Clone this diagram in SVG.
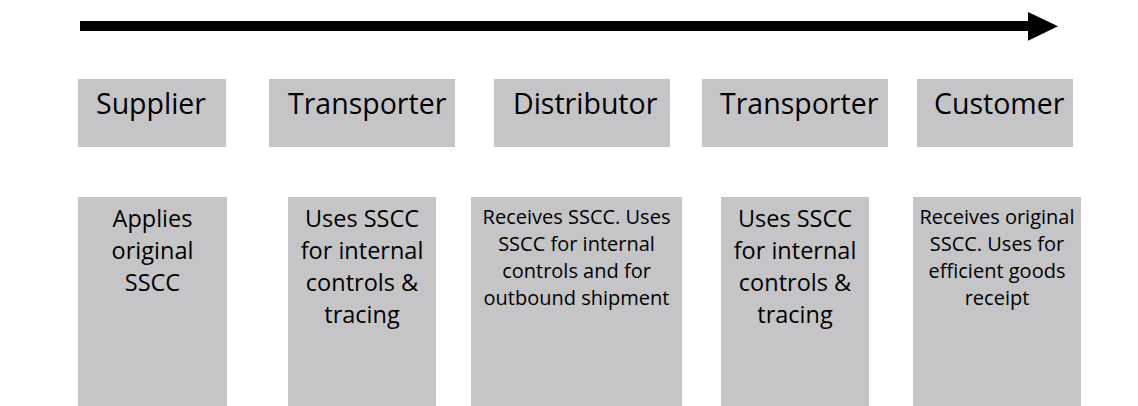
<svg xmlns="http://www.w3.org/2000/svg" width="1138" height="406" viewBox="0 0 1138 406">
<style>
.box{fill:#c5c5c7;}
.t{font-family:"Open Sans","Liberation Sans",sans-serif;fill:#000;}
.hd{font-size:28.5px;}
.lg{font-size:23.5px;text-anchor:middle;}
.sm{font-size:20px;text-anchor:middle;}
</style>
<rect width="1138" height="406" fill="#fff"/>
<g id="connectors">
<path d="M80 21 H1028 V12 L1058 26.3 L1028 40.7 V31 H80 Z" fill="#000"/>
</g>
<g id="supplier">
<rect class="box" x="78" y="79" width="148" height="68"/>
<text class="t hd" x="96" y="114">Supplier</text>
</g>
<g id="transporter1">
<rect class="box" x="269" y="79" width="186" height="68"/>
<text class="t hd" x="288" y="114">Transporter</text>
</g>
<g id="distributor">
<rect class="box" x="494" y="79" width="176" height="68"/>
<text class="t hd" x="513" y="114">Distributor</text>
</g>
<g id="transporter2">
<rect class="box" x="702" y="79" width="186" height="68"/>
<text class="t hd" x="720" y="114">Transporter</text>
</g>
<g id="customer">
<rect class="box" x="917" y="79" width="156" height="68"/>
<text class="t hd" x="934" y="114">Customer</text>
</g>
<g id="supplier-role">
<rect class="box" x="78" y="197" width="149" height="209"/>
<text class="t lg" x="152.5" y="227">Applies</text>
<text class="t lg" x="152.5" y="259">original</text>
<text class="t lg" x="152.5" y="291">SSCC</text>
</g>
<g id="transporter1-role">
<rect class="box" x="288" y="197" width="148" height="209"/>
<text class="t lg" x="362" y="227">Uses SSCC</text>
<text class="t lg" x="362" y="259">for internal</text>
<text class="t lg" x="362" y="291">controls &amp;</text>
<text class="t lg" x="362" y="323">tracing</text>
</g>
<g id="distributor-role">
<rect class="box" x="471" y="197" width="211" height="209"/>
<text class="t sm" x="576.5" y="224">Receives SSCC. Uses</text>
<text class="t sm" x="576.5" y="251">SSCC for internal</text>
<text class="t sm" x="576.5" y="278">controls and for</text>
<text class="t sm" x="576.5" y="305">outbound shipment</text>
</g>
<g id="transporter2-role">
<rect class="box" x="721" y="197" width="148" height="209"/>
<text class="t lg" x="795" y="227">Uses SSCC</text>
<text class="t lg" x="795" y="259">for internal</text>
<text class="t lg" x="795" y="291">controls &amp;</text>
<text class="t lg" x="795" y="323">tracing</text>
</g>
<g id="customer-role">
<rect class="box" x="913" y="197" width="168" height="209"/>
<text class="t sm" x="997" y="224">Receives original</text>
<text class="t sm" x="997" y="251">SSCC. Uses for</text>
<text class="t sm" x="997" y="278">efficient goods</text>
<text class="t sm" x="997" y="305">receipt</text>
</g>
</svg>
